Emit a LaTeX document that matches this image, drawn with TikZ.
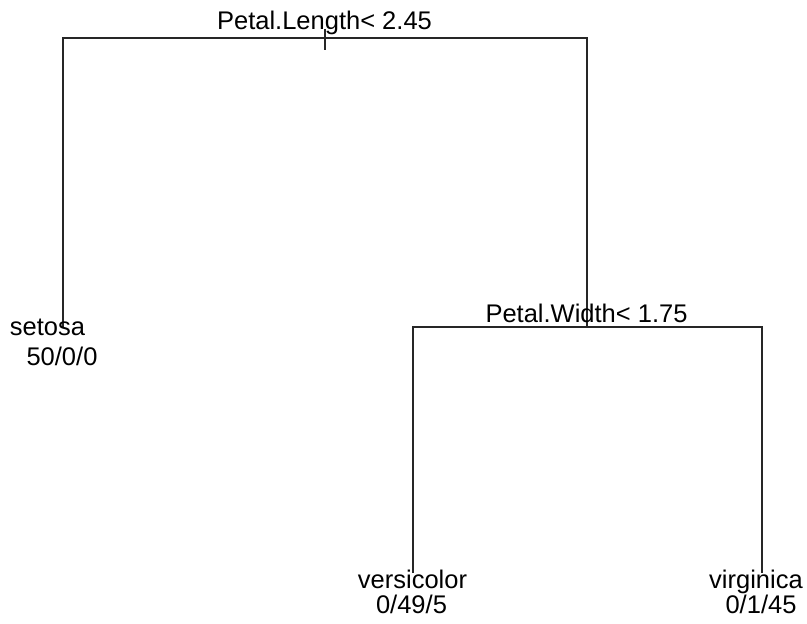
\documentclass[tikz,border=0pt]{standalone}
\usepackage{fontspec}
\setmainfont{Liberation Sans}
\begin{document}
\begin{tikzpicture}[x=1pt,y=-1pt,
  edge/.style={line width=1.3pt,draw=black!85},
  lbl/.style={anchor=base,inner sep=0pt,font=\fontsize{25.5}{30}\selectfont}]
\useasboundingbox (0,0) rectangle (807,624);
% split and leaf positions
\coordinate (root) at (325,38);
\coordinate (rootL) at (63,38);
\coordinate (rootR) at (587,38);
\coordinate (setosa) at (63,328);
\coordinate (pw) at (587,327);
\coordinate (pwL) at (413,327);
\coordinate (pwR) at (762,327);
\coordinate (versicolor) at (413,573);
\coordinate (virginica) at (762,573);
\coordinate (tickT) at (325,29);
\coordinate (tickB) at (325,50);
% branches
\draw[edge] (setosa) -- (rootL) -- (rootR) -- (pw);
\draw[edge] (tickT) -- (tickB);
\draw[edge] (versicolor) -- (pwL) -- (pwR) -- (virginica);
% split labels
\node[lbl] (l1) at (324.5,29) {Petal.Length< 2.45};
\node[lbl] (l2) at (586.5,322) {Petal.Width< 1.75};
% leaf labels
\node[lbl] (s1) at (47.5,335) {setosa};
\node[lbl] (s2) at (62,365) {50/0/0};
\node[lbl] (v1) at (412.5,588) {versicolor};
\node[lbl] (v2) at (411.5,613) {0/49/5};
\node[lbl] (g1) at (756,588) {virginica};
\node[lbl] (g2) at (761,613) {0/1/45};
\end{tikzpicture}
\end{document}
